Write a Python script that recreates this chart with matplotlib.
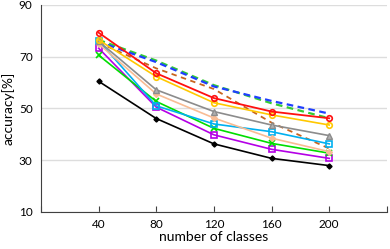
import matplotlib
matplotlib.use("Agg")
import matplotlib.pyplot as plt

# data
classes = [40, 80, 120, 160, 200]

red_circle = [79.3, 63.6, 54.0, 48.8, 46.2]
yellow_circle = [76.5, 62.3, 52.2, 47.5, 43.6]
gray_triangle = [76.0, 57.2, 48.8, 43.6, 39.5]
peach_diamond = [75.0, 55.6, 46.3, 38.5, 33.3]
cyan_square = [76.2, 51.0, 44.0, 41.0, 36.3]
green_x = [70.6, 52.7, 42.3, 36.5, 32.7]
magenta_square = [73.3, 50.5, 39.8, 34.2, 30.7]
black_diamond = [60.5, 46.1, 36.3, 30.7, 27.9]
blue_dashed = [75.8, 67.9, 58.5, 52.9, 48.0]
green_dashed = [76.5, 68.5, 59.0, 52.0, 46.2]
orange_dashed = [75.5, 65.5, 57.5, 44.5, 34.5]

plt.rcParams['font.family'] = ['Lato', 'DejaVu Sans']

fig = plt.figure(figsize=(3.9, 2.49), dpi=100)
ax = fig.add_axes([0.105, 0.149, 0.887, 0.831])

ax.plot(classes, green_dashed, color="#33CC33", lw=1.6, ls=(0, (3, 2)), zorder=3)
ax.plot(classes, blue_dashed, color="#1F3FFF", lw=1.6, ls=(0.6, (3, 2)), zorder=3)
ax.plot(classes, orange_dashed, color="#C8641E", lw=1.3, ls=(0, (3, 2.5)), zorder=3)

ms = 4
ax.plot(classes, black_diamond, color="black", lw=1.2, marker="D", ms=2.6, zorder=4)
ax.plot(classes, magenta_square, color="#B400E6", lw=1.2, marker="s", ms=ms,
        mfc="none", mew=1.2, zorder=4)
ax.plot(classes, green_x, color="#00DD00", lw=1.2, marker="x", ms=ms, mew=1.2, zorder=4)
ax.plot(classes, cyan_square, color="#00B0F0", lw=1.2, marker="s", ms=ms,
        mfc="none", mew=1.2, zorder=4)
ax.plot(classes, peach_diamond, color="#F8BC94", lw=1.2, marker="D", ms=3, zorder=4)
ax.plot(classes, gray_triangle, color="#8C8C8C", lw=1.2, marker="^", ms=ms,
        mfc="#B0B0B0", mew=1.0, zorder=4)
ax.plot(classes, yellow_circle, color="#FFC800", lw=1.2, marker="o", ms=ms,
        mfc="none", mew=1.2, zorder=4)
ax.plot(classes, red_circle, color="#FF1010", lw=1.3, marker="o", ms=ms,
        mfc="none", mew=1.2, zorder=4)

ax.set_xlim(0, 240)
ax.set_ylim(10, 90)
ax.set_xticks([0, 40, 80, 120, 160, 200, 240])
ax.set_xticklabels(["", "40", "80", "120", "160", "200", ""])
ax.set_yticks([10, 30, 50, 70, 90])
ax.yaxis.grid(True, color="#DDDDDD", lw=1)
ax.set_axisbelow(True)

for s in ["top", "right"]:
    ax.spines[s].set_visible(False)
ax.spines["left"].set_color("#404040")
ax.spines["bottom"].set_color("#404040")
ax.tick_params(axis="x", direction="in", length=4, labelsize=8.5, pad=5, color="#404040")
ax.tick_params(axis="y", length=0, labelsize=8.5, pad=6)

ax.set_xlabel("number of classes", fontsize=10, labelpad=1)
ax.set_ylabel("accuracy[%]", fontsize=10, labelpad=3)

fig.savefig("out.png", dpi=100)
